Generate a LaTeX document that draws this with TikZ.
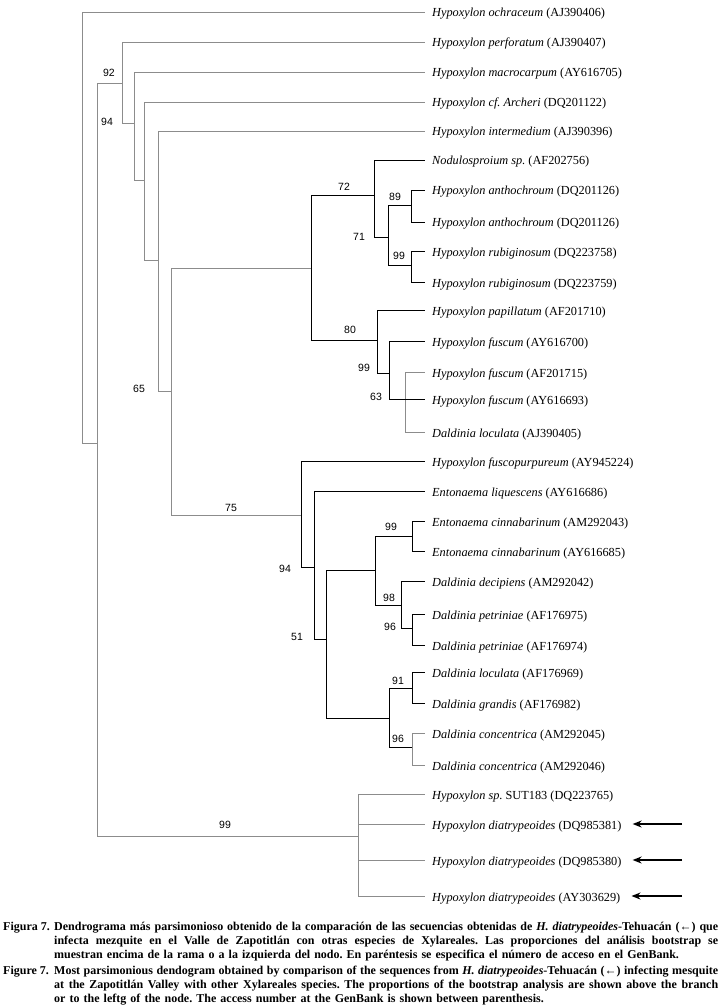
\documentclass[tikz,border=0pt]{standalone}
\usepackage{fontspec}
\setmainfont{Liberation Serif}
\newfontfamily\bootfont{Liberation Sans}
\usetikzlibrary{arrows.meta}
\definecolor{grisrama}{gray}{0.55}
\frenchspacing
\newcommand{\renglon}[1]{\makebox[664pt][s]{\spaceskip=.3em plus .4em minus .18em #1}}
\newcommand{\ultimo}[1]{\makebox[664pt][l]{\spaceskip=.34em #1}}

\begin{document}
\begin{tikzpicture}[x=1pt,y=-1pt,
	rama/.style={line width=0.8pt},
	gris/.style={rama,grisrama},
	hoja/.style={anchor=west,inner xsep=7pt,inner ysep=0pt,text height=10pt,text depth=0pt,font=\fontsize{12.3}{14}\selectfont},
	boot/.style={inner sep=0pt,font=\bootfont\fontsize{10.5}{12}\selectfont},
	flecha/.style={line width=1.6pt,-{Stealth[length=9pt,width=7pt]}},
	leyenda/.style={anchor=base west,inner sep=0pt,font=\bfseries\fontsize{12}{14.2}\selectfont},
	parrafo/.style={leyenda,text width=664pt,align=left}]
	\useasboundingbox (0,0) rectangle (722,1008);
	% hojas
	\node[hoja] (h1) at (425,12) {\textit{Hypoxylon ochraceum} (AJ390406)};
	\node[hoja] (h2) at (425,42) {\textit{Hypoxylon perforatum} (AJ390407)};
	\node[hoja] (h3) at (425,72) {\textit{Hypoxylon macrocarpum} (AY616705)};
	\node[hoja] (h4) at (425,102) {\textit{Hypoxylon cf. Archeri} (DQ201122)};
	\node[hoja] (h5) at (425,131) {\textit{Hypoxylon intermedium} (AJ390396)};
	\node[hoja] (h6) at (425,160) {\textit{Nodulosproium sp.} (AF202756)};
	\node[hoja] (h7) at (425,190) {\textit{Hypoxylon anthochroum} (DQ201126)};
	\node[hoja] (h8) at (425,222) {\textit{Hypoxylon anthochroum} (DQ201126)};
	\node[hoja] (h9) at (425,251) {\textit{Hypoxylon rubiginosum} (DQ223758)};
	\node[hoja] (h10) at (425,282) {\textit{Hypoxylon rubiginosum} (DQ223759)};
	\node[hoja] (h11) at (425,310) {\textit{Hypoxylon papillatum} (AF201710)};
	\node[hoja] (h12) at (425,341) {\textit{Hypoxylon fuscum} (AY616700)};
	\node[hoja] (h13) at (425,372) {\textit{Hypoxylon fuscum} (AF201715)};
	\node[hoja] (h14) at (425,399) {\textit{Hypoxylon fuscum} (AY616693)};
	\node[hoja] (h15) at (425,432) {\textit{Daldinia loculata} (AJ390405)};
	\node[hoja] (h16) at (425,461) {\textit{Hypoxylon fuscopurpureum} (AY945224)};
	\node[hoja] (h17) at (425,491) {\textit{Entonaema liquescens} (AY616686)};
	\node[hoja] (h18) at (425,521) {\textit{Entonaema cinnabarinum} (AM292043)};
	\node[hoja] (h19) at (425,551) {\textit{Entonaema cinnabarinum} (AY616685)};
	\node[hoja] (h20) at (425,581) {\textit{Daldinia decipiens} (AM292042)};
	\node[hoja] (h21) at (425,614) {\textit{Daldinia petriniae} (AF176975)};
	\node[hoja] (h22) at (425,645) {\textit{Daldinia petriniae} (AF176974)};
	\node[hoja] (h23) at (425,672) {\textit{Daldinia loculata} (AF176969)};
	\node[hoja] (h24) at (425,703) {\textit{Daldinia grandis} (AF176982)};
	\node[hoja] (h25) at (425,733) {\textit{Daldinia concentrica} (AM292045)};
	\node[hoja] (h26) at (425,765) {\textit{Daldinia concentrica} (AM292046)};
	\node[hoja] (h27) at (425,794) {\textit{Hypoxylon sp.} SUT183 (DQ223765)};
	\node[hoja] (h28) at (425,824) {\textit{Hypoxylon diatrypeoides} (DQ985381)};
	\node[hoja] (h29) at (425,860) {\textit{Hypoxylon diatrypeoides} (DQ985380)};
	\node[hoja] (h30) at (425,896) {\textit{Hypoxylon diatrypeoides} (AY303629)};
	% nodos internos
	\coordinate (A) at (82,228);
	\coordinate (B) at (97,443);
	\coordinate (C) at (122,83);
	\coordinate (D) at (134,123);
	\coordinate (E) at (144,180);
	\coordinate (F) at (158,260);
	\coordinate (G) at (171,391);
	\coordinate (H) at (311,268);
	\coordinate (J) at (374,195);
	\coordinate (K) at (388,237);
	\coordinate (L) at (411,205);
	\coordinate (M) at (411,265);
	\coordinate (N) at (377,340);
	\coordinate (O) at (389,373);
	\coordinate (P) at (405,399);
	\coordinate (I) at (301,515);
	\coordinate (Q) at (314,567);
	\coordinate (R) at (326,639);
	\coordinate (S) at (375,570);
	\coordinate (T) at (412,536);
	\coordinate (U) at (401,605);
	\coordinate (V) at (412,628);
	\coordinate (W) at (389,718);
	\coordinate (X) at (412,688);
	\coordinate (Y) at (412,747);
	\coordinate (Z) at (358,836);
	% ramas grises
	\draw[gris] (A) |- (h1.west) (A) |- (B) (B) |- (C) (B) |- (Z);
	\draw[gris] (C) |- (h2.west) (C) |- (D) (D) |- (h3.west) (D) |- (E);
	\draw[gris] (E) |- (h4.west) (E) |- (F) (F) |- (h5.west) (F) |- (G);
	\draw[gris] (G) |- (H) (G) |- (I);
	\draw[gris] (P) |- (h13.west) (P) |- (h15.west);
	\draw[gris] (Y) |- (h25.west) (Y) |- (h26.west);
	\draw[gris] (Z) |- (h27.west) (Z) |- (h28.west) (Z) |- (h29.west) (Z) |- (h30.west);
	% ramas negras
	\draw[rama] (H) |- (J) (H) |- (N) (J) |- (h6.west) (J) |- (K);
	\draw[rama] (K) |- (L) (K) |- (M) (L) |- (h7.west) (L) |- (h8.west) (M) |- (h9.west) (M) |- (h10.west);
	\draw[rama] (N) |- (h11.west) (N) |- (O) (O) |- (h12.west) (O) |- (h14.west);
	\draw[rama] (I) |- (h16.west) (I) |- (Q) (Q) |- (h17.west) (Q) |- (R);
	\draw[rama] (R) |- (S) (R) |- (W) (S) |- (T) (S) |- (U);
	\draw[rama] (T) |- (h18.west) (T) |- (h19.west) (U) |- (h20.west) (U) |- (V);
	\draw[rama] (V) |- (h21.west) (V) |- (h22.west) (W) |- (X) (W) |- (Y);
	\draw[rama] (X) |- (h23.west) (X) |- (h24.west);
	% valores bootstrap
	\node[boot] (b1) at (109,73) {92};
	\node[boot] (b2) at (107,122) {94};
	\node[boot] (b3) at (139,389) {65};
	\node[boot] (b4) at (344,187) {72};
	\node[boot] (b5) at (359,237) {71};
	\node[boot] (b6) at (395,197) {89};
	\node[boot] (b7) at (399,256) {99};
	\node[boot] (b8) at (350,330) {80};
	\node[boot] (b9) at (364,368) {99};
	\node[boot] (b10) at (376,397) {63};
	\node[boot] (b11) at (231,508) {75};
	\node[boot] (b12) at (285,569) {94};
	\node[boot] (b13) at (297,637) {51};
	\node[boot] (b14) at (391,527) {99};
	\node[boot] (b15) at (389,598) {98};
	\node[boot] (b16) at (390,627) {96};
	\node[boot] (b17) at (398,681) {91};
	\node[boot] (b18) at (398,739) {96};
	\node[boot] (b19) at (225,825) {99};
	% flechas
	\coordinate (f28) at (682,824);
	\coordinate (f29) at (682,860);
	\coordinate (f30) at (682,896);
	\draw[flecha] (f28) -- ([xshift=4pt]h28.east);
	\draw[flecha] (f29) -- ([xshift=4pt]h29.east);
	\draw[flecha] (f30) -- ([xshift=4pt]h30.east);
	% leyenda
	\node[leyenda] (fig1) at (3,930.5) {Figura 7.};
	\node[parrafo] (cap1) at (54,930.5) {\renglon{Dendrograma más parsimonioso obtenido de la comparación de las secuencias obtenidas de \textit{H. diatrypeoides}-Tehuacán (←) que}\\
		\renglon{infecta mezquite en el Valle de Zapotitlán con otras especies de Xylareales. Las proporciones del análisis bootstrap se}\\
		\ultimo{muestran encima de la rama o a la izquierda del nodo. En paréntesis se especifica el número de acceso en el GenBank.}};
	\node[leyenda] (fig2) at (3,974.5) {Figure 7.};
	\node[parrafo] (cap2) at (54,974.5) {\renglon{Most parsimonious dendogram obtained by comparison of the sequences from \textit{H. diatrypeoides}-Tehuacán (←) infecting mesquite}\\
		\renglon{at the Zapotitlán Valley with other Xylareales species. The proportions of the bootstrap analysis are shown above the branch}\\
		\ultimo{or to the leftg of the node. The access number at the GenBank is shown between parenthesis.}};
\end{tikzpicture}
\end{document}
